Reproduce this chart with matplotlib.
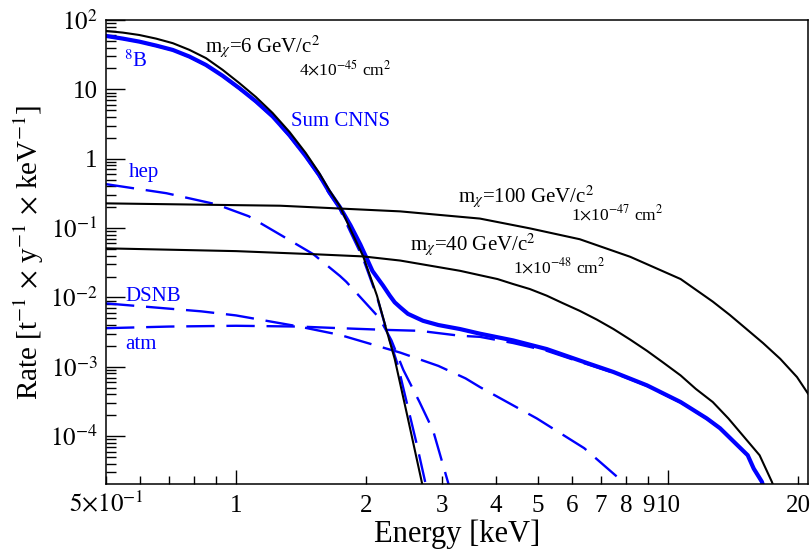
import matplotlib
matplotlib.use("Agg")
import matplotlib.pyplot as plt
from matplotlib.ticker import FixedLocator, FixedFormatter, LogLocator, NullFormatter

plt.rcParams['font.family'] = ['Liberation Serif', 'DejaVu Serif']
plt.rcParams['mathtext.fontset'] = 'stix'

# WIMP spectra (black)
e_wimp6 = [0.5, 0.547, 0.597, 0.653, 0.714, 0.78, 0.852, 0.931, 1.018, 1.112, 1.215,
           1.33, 1.45, 1.557, 1.64, 1.74, 1.84, 1.97, 2.12, 2.23, 2.33, 2.5, 2.7, 2.75]
r_wimp6 = [69.5, 65.8, 60.8, 53.9, 46.3, 37.1, 28.2, 19.1, 12.3, 7.75, 4.57,
           2.43, 1.21, 0.627, 0.361, 0.206, 0.096, 0.039, 0.0106, 3.4e-3, 1.3e-3,
           1.8e-4, 2.0e-5, 1.2e-5]

e_wimp100 = [0.5, 1.0, 1.265, 2.4, 3.67, 4.79, 6.25, 8.18, 10.7, 12.7, 13.9, 15.2, 16.6,
             18.2, 19.9, 21.1]
r_wimp100 = [0.227, 0.214, 0.21, 0.174, 0.137, 0.099, 0.069, 0.0385, 0.0184, 8.7e-3,
             5.6e-3, 3.5e-3, 2.2e-3, 1.3e-3, 7.1e-4, 4.1e-4]

e_wimp40 = [0.5, 1.0, 1.51, 1.97, 2.4, 3.3, 3.67, 4.03, 4.38, 4.79, 5.24, 5.7, 6.25,
            6.84, 7.48, 8.18, 8.94, 9.75, 10.7, 11.6, 12.7, 13.8, 16.3, 17.4, 17.8]
r_wimp40 = [0.051, 0.0465, 0.042, 0.039, 0.034, 0.0242, 0.0209, 0.0184, 0.0156, 0.0132,
            0.0106, 8.3e-3, 6.4e-3, 4.8e-3, 3.5e-3, 2.46e-3, 1.7e-3, 1.15e-3, 7.5e-4,
            4.8e-4, 3.1e-4, 1.8e-4, 5.3e-5, 2.2e-5, 1.5e-5]

# neutrino backgrounds (blue)
e_b8 = [0.5, 0.547, 0.597, 0.653, 0.714, 0.78, 0.852, 0.931, 1.018, 1.112, 1.215, 1.33,
        1.45, 1.557, 1.64, 1.74, 1.84, 1.97, 2.12, 2.23, 2.37, 2.5, 2.62, 2.75, 2.8]
r_b8 = [58.4, 53.5, 48.3, 42.4, 36.6, 29.4, 22.2, 15.5, 10.2, 6.55, 4.0, 2.1,
        1.06, 0.56, 0.32, 0.185, 0.088, 0.036, 0.0102, 3.4e-3, 1.05e-3, 2.6e-4,
        7.7e-5, 2.0e-5, 1.2e-5]

e_hep = [0.5, 0.69, 0.90, 1.07, 1.28, 1.51, 1.74, 1.80, 2.15, 2.29, 2.44, 2.66, 2.86,
         3.1, 3.15]
r_hep = [0.43, 0.318, 0.22, 0.148, 0.077, 0.042, 0.0204, 0.0168, 5.0e-3, 2.4e-3, 9e-4,
         3.1e-4, 1.2e-4, 2.1e-5, 1.2e-5]

e_dsnb = [0.5, 0.83, 1.0, 1.4, 1.74, 2.27, 2.4, 2.94, 3.4, 3.67, 4.97, 6.4, 7.86, 8.1]
r_dsnb = [8.2e-3, 6.3e-3, 5.5e-3, 3.8e-3, 2.88e-3, 1.77e-3, 1.6e-3, 1.03e-3, 6.8e-4,
          5.1e-4, 1.8e-4, 6.7e-5, 2.2e-5, 1.8e-5]

e_atm = [0.5, 0.7, 1.0, 1.4, 1.74, 2.23, 2.66, 3.3, 3.67, 4.38, 5.24, 6.25, 7.48, 8.94,
         10.7, 12.3, 13.2, 15.3, 15.8, 16.5, 17.0]
r_atm = [3.6e-3, 3.8e-3, 3.9e-3, 3.8e-3, 3.6e-3, 3.4e-3, 3.3e-3, 2.8e-3, 2.7e-3, 2.2e-3,
         1.7e-3, 1.18e-3, 8.2e-4, 5.3e-4, 3.05e-4, 1.78e-4, 1.29e-4, 5.25e-5, 3.37e-5,
         2.18e-5, 1.2e-5]

e_sum = [0.5, 0.547, 0.597, 0.653, 0.714, 0.78, 0.852, 0.931, 1.018, 1.112, 1.215, 1.33,
         1.45, 1.557, 1.64, 1.74, 1.84, 1.94, 2.07, 2.19, 2.27, 2.33, 2.4, 2.5, 2.71,
         2.94, 3.3, 3.67, 4.38, 5.24, 6.25, 7.48, 8.94, 10.7, 12.3, 13.2, 15.3, 15.8,
         16.5, 17.0]
r_sum = [58.9, 53.9, 48.8, 42.8, 37.0, 29.7, 22.5, 15.7, 10.4, 6.71, 4.08, 2.18,
         1.09, 0.586, 0.34, 0.2, 0.11, 0.058, 0.024, 0.0148, 0.0106, 8.5e-3, 7.2e-3,
         5.8e-3, 4.6e-3, 4.0e-3, 3.5e-3, 3.0e-3, 2.4e-3, 1.8e-3, 1.23e-3, 8.4e-4,
         5.4e-4, 3.1e-4, 1.8e-4, 1.3e-4, 5.3e-5, 3.4e-5, 2.2e-5, 1.2e-5]

y_ticks = [1e-4, 1e-3, 1e-2, 1e-1, 1, 10, 100]
y_labels = ['$10^{-4}$', '$10^{-3}$', '$10^{-2}$', '$10^{-1}$', '1', '10', '$10^{2}$']
x_major = [1, 10]
x_major_labels = ['1', '10']
x_minor = [0.5, 0.6, 0.7, 0.8, 0.9, 2, 3, 4, 5, 6, 7, 8, 9, 20]
x_minor_labels = [r'$5{\times}10^{-1}$', '', '', '', '', '2', '3', '4', '5', '6', '7',
                  '8', '9', '20']

blue = '#0000ff'
dash = (12, 5)

fig = plt.figure(figsize=(8.12, 5.52), dpi=100)
ax = fig.add_axes([106 / 812, 1 - 484 / 552, 702 / 812, 464 / 552])
ax.set_xscale('log')
ax.set_yscale('log')

ax.plot(e_sum, r_sum, color=blue, lw=3.0, solid_joinstyle='round')
for e, r in [(e_b8, r_b8), (e_hep, r_hep), (e_dsnb, r_dsnb), (e_atm, r_atm)]:
    ax.plot(e, r, color=blue, lw=1.7, ls=(0, dash))
ax.plot(e_wimp6, r_wimp6, color='black', lw=1.5)
ax.plot(e_wimp100, r_wimp100, color='black', lw=1.5)
ax.plot(e_wimp40, r_wimp40, color='black', lw=1.5)

ax.set_xlim(0.5, 21.1)
ax.set_ylim(2.04e-5, 100)

ax.yaxis.set_major_locator(FixedLocator(y_ticks))
ax.yaxis.set_major_formatter(FixedFormatter(y_labels))
ax.yaxis.set_minor_locator(LogLocator(base=10, subs=range(2, 10), numticks=20))
ax.yaxis.set_minor_formatter(NullFormatter())
ax.xaxis.set_major_locator(FixedLocator(x_major))
ax.xaxis.set_major_formatter(FixedFormatter(x_major_labels))
ax.xaxis.set_minor_locator(FixedLocator(x_minor))
ax.xaxis.set_minor_formatter(FixedFormatter(x_minor_labels))

ax.tick_params(which='both', direction='in', top=False, right=False, width=1.0,
               labelsize=18)
ax.tick_params(axis='y', which='major', length=14, pad=6)
ax.tick_params(axis='y', which='minor', length=7)
ax.tick_params(axis='x', which='major', length=10, pad=20)
ax.tick_params(axis='x', which='minor', length=5.5, pad=20)
for t in ax.xaxis.get_major_ticks() + ax.xaxis.get_minor_ticks():
    t.label1.set_va('baseline')
for s in ax.spines.values():
    s.set_linewidth(1.1)

ax.set_xlabel('Energy [keV]', fontsize=22, labelpad=2)
ax.set_ylabel(r'Rate [t$^{-1}$ $\times$ y$^{-1}$ $\times$ keV$^{-1}$]', fontsize=21,
              labelpad=3)

tkw = dict(transform=ax.transAxes, va='baseline', ha='left')
ax.text(0.025, 0.899, r'$^{8}$B', color=blue, fontsize=15, **tkw)
ax.text(0.141, 0.929, r'm$_{\chi}$=6 GeV/c$^{2}$', fontsize=15, **tkw)
ax.text(0.275, 0.881, r'4$\times$10$^{-45}$ cm$^{2}$', fontsize=12.5, **tkw)
ax.text(0.2635, 0.772, 'Sum CNNS', color=blue, fontsize=15, **tkw)
ax.text(0.032, 0.662, 'hep', color=blue, fontsize=15, **tkw)
ax.text(0.502, 0.605, r'm$_{\chi}$=100 GeV/c$^{2}$', fontsize=15, **tkw)
ax.text(0.663, 0.569, r'1$\times$10$^{-47}$ cm$^{2}$', fontsize=12.5, **tkw)
ax.text(0.433, 0.501, r'm$_{\chi}$=40 GeV/c$^{2}$', fontsize=15, **tkw)
ax.text(0.580, 0.454, r'1$\times$10$^{-48}$ cm$^{2}$', fontsize=12.5, **tkw)
ax.text(0.027, 0.395, 'DSNB', color=blue, fontsize=15, **tkw)
ax.text(0.028, 0.291, 'atm', color=blue, fontsize=15, **tkw)

fig.savefig('out.png', dpi=100)
